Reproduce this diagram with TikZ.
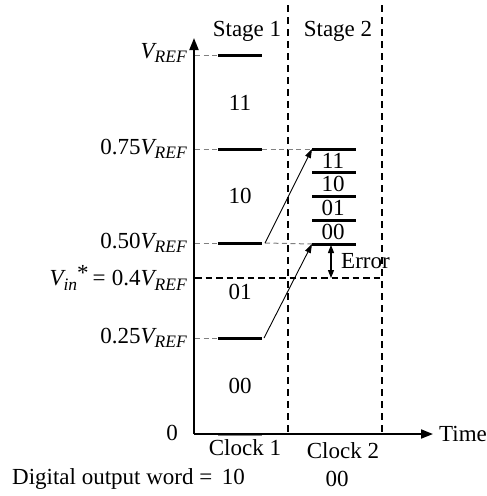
\documentclass[tikz,border=0pt]{standalone}
\usepackage{fontspec}
\setmainfont{Liberation Serif}
\usetikzlibrary{arrows.meta}
\newcommand\mysub[1]{\raisebox{-4.5pt}{\fontsize{17.5}{17.5}\selectfont #1}}
\newcommand\VR{\textit{V\mysub{REF}}}
\tikzset{
  axisline/.style={line width=1.8pt,-{Triangle[length=12pt,width=9pt]}},
  bar/.style={line width=3pt},
  greydash/.style={gray,line width=1pt,dash pattern=on 5pt off 3.5pt},
  vindash/.style={black,line width=1.5pt,dash pattern=on 6.5pt off 4pt},
  stagedash/.style={black,line width=1.9pt,dash pattern=on 7pt off 5pt},
  diag/.style={line width=0.9pt,-{Triangle[length=9pt,width=6pt]}},
  errarrow/.style={line width=1.1pt,{Triangle[length=8pt,width=6pt]}-{Triangle[length=8pt,width=6pt]}},
  lbl/.style={inner sep=0pt,anchor=east},
  txt/.style={inner sep=0pt}
}
\begin{document}
\begin{tikzpicture}[x=1pt,y=-1pt,font=\fontsize{23}{27}\selectfont]
\useasboundingbox (0,0) rectangle (487,496);
% axes
\coordinate (O) at (194,434);
\coordinate (Ytop) at (194,38);
\coordinate (Xend) at (433,434);
% stage separators
\coordinate (s1t) at (288,5);
\coordinate (s1b) at (288,434);
\coordinate (s2t) at (382,5);
\coordinate (s2b) at (382,434);
\draw[stagedash] (s1t) -- (s1b);
\draw[stagedash] (s2t) -- (s2b);
% level coordinates on axis
\coordinate (a100) at (195,55);
\coordinate (a75) at (195,149);
\coordinate (a50) at (195,243);
\coordinate (avin) at (195,278);
\coordinate (a25) at (195,338);
% stage 1 bars
\foreach \n/\y in {100/55,75/149,50/243,25/338,0/434}{
  \coordinate (b\n L) at (218,\y);
  \coordinate (b\n R) at (262,\y);
}
% stage 2 bars
\foreach \n/\y in {t/149,c/172,b/196,a/220,z/244}{
  \coordinate (c\n L) at (312,\y);
  \coordinate (c\n R) at (356,\y);
}
\coordinate (vinend) at (382,278);
\coordinate (d50s) at (265,243);
\coordinate (d25s) at (264,338);
\coordinate (errtop) at (331,245);
\coordinate (errbot) at (331,278);
% dashed level lines
\draw[greydash] (a100) -- (b100L);
\draw[greydash] (a75) -- (b75L);
\draw[greydash] (b75R) -- (ctL);
\draw[greydash] (a50) -- (b50L);
\draw[greydash] (d50s) -- (czL);
\draw[greydash] (a25) -- (b25L);
\draw[vindash] (avin) -- (vinend);
% bars
\foreach \n in {100,75,50,25}{\draw[bar] (b\n L) -- (b\n R);}
\draw[bar,gray] (b0L) -- (b0R);
\foreach \n in {t,c,b,a,z}{\draw[bar] (c\n L) -- (c\n R);}
% axes drawn over
\draw[axisline] (O) -- (Ytop);
\draw[axisline] (O) -- (Xend);
% diagonal arrows
\draw[diag] (d50s) -- (ctL);
\draw[diag] (d25s) -- (czL);
% error arrow
\draw[errarrow] (errtop) -- (errbot);
% texts
\node[txt] (st1) at (247,31) {Stage 1};
\node[txt] (st2) at (338,31) {Stage 2};
\node[lbl] (lv100) at (187,53) {\VR};
\node[lbl] (lv75) at (187,149) {0.75\VR};
\node[lbl] (lv50) at (187,243) {0.50\VR};
\node[lbl] (lvin) at (187,278) {\textit{V\mysub{in}}\raisebox{5pt}{*}\,=\;0.4\VR};
\node[lbl] (lv25) at (187,338) {0.25\VR};
\node[txt] (l0) at (172,433) {0};
\node[txt] (c11) at (240,103) {11};
\node[txt] (c10) at (240,196) {10};
\node[txt] (c01) at (240,292) {01};
\node[txt] (c00) at (240,386) {00};
\node[txt] (d11) at (333,161) {11};
\node[txt] (d10) at (333,184) {10};
\node[txt] (d01) at (333,208) {01};
\node[txt] (d00) at (333,232) {00};
\node[txt,anchor=west] (err) at (341,261) {Error};
\node[txt,anchor=west] (time) at (439,434) {Time};
\node[txt] (clk1) at (245,448) {Clock 1};
\node[txt] (clk2) at (343,451) {Clock 2};
\node[txt,anchor=west] (dow) at (12,479) {Digital output word =\, 10};
\node[txt] (dow2) at (337,479) {00};
\end{tikzpicture}
\end{document}
